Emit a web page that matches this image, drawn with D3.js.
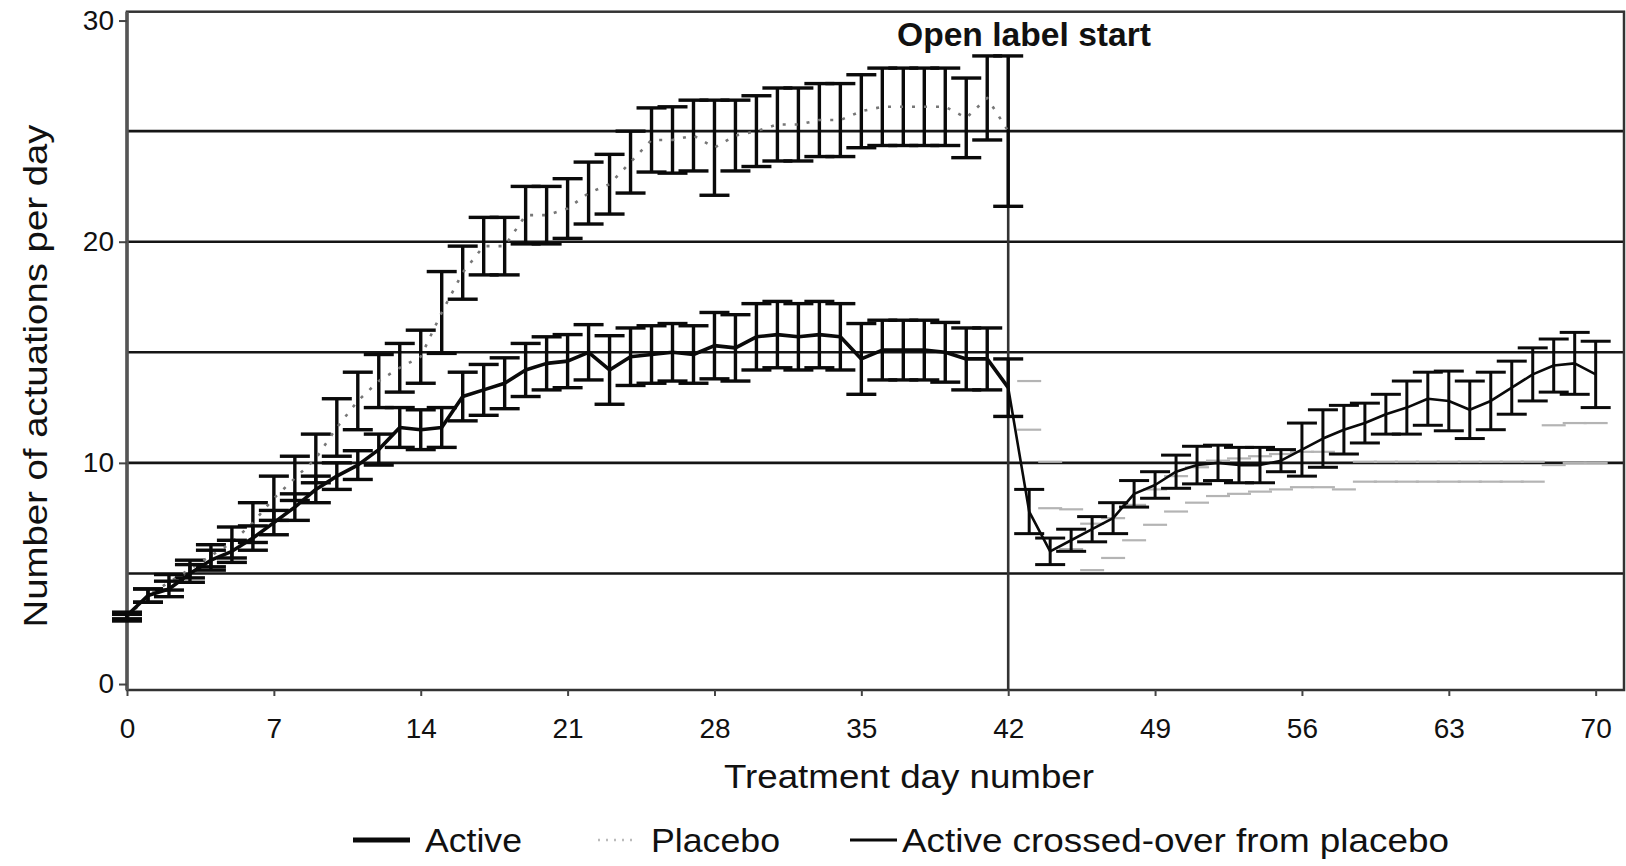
<!DOCTYPE html>
<html>
<head>
<meta charset="utf-8">
<script src="https://cdn.jsdelivr.net/npm/d3@7"></script>
<style>
body { margin: 0; background: #fff; }
text { font-family: "Liberation Sans", Arial, Helvetica, sans-serif; fill: #111; }
</style>
</head>
<body>
<svg width="1626" height="866"></svg>
<script>
// double-blind period, days 0-42
const blindDays = d3.range(0, 43);
const activeMean = [3.1, 4.0, 4.3, 5.0, 5.6, 6.0, 6.6, 7.3, 8.0, 8.8, 9.4, 9.9, 10.6, 11.6, 11.5, 11.6,
    13.0, 13.3, 13.6, 14.2, 14.5, 14.6, 15.0, 14.2, 14.8, 14.9, 15.0, 14.9, 15.3, 15.2, 15.7, 15.8,
    15.7, 15.8, 15.7, 14.7, 15.1, 15.1, 15.1, 15.0, 14.7, 14.7, 13.4];
const activeSE = [0.15, 0.3, 0.35, 0.4, 0.45, 0.5, 0.55, 0.55, 0.6, 0.6, 0.6, 0.65, 0.7, 0.9, 0.9, 0.9,
    1.1, 1.15, 1.15, 1.2, 1.2, 1.2, 1.25, 1.55, 1.3, 1.3, 1.3, 1.3, 1.5, 1.5, 1.5, 1.5,
    1.5, 1.5, 1.5, 1.6, 1.35, 1.35, 1.35, 1.35, 1.4, 1.4, 1.3];
const placeboMean = [3.0, 4.0, 4.6, 5.2, 5.8, 6.4, 7.3, 8.4, 9.3, 10.2, 11.6, 12.8, 13.7, 14.3, 14.8, 16.8,
    18.6, 19.8, 19.8, 21.2, 21.2, 21.5, 22.2, 22.6, 23.6, 24.6, 24.6, 24.8, 24.25, 24.8, 25.0, 25.3,
    25.3, 25.5, 25.5, 25.9, 26.1, 26.1, 26.1, 26.1, 25.6, 26.5, 25.0];
const placeboSE = [0.15, 0.3, 0.35, 0.4, 0.5, 0.7, 0.9, 1.0, 1.0, 1.1, 1.3, 1.3, 1.2, 1.1, 1.2, 1.85,
    1.2, 1.3, 1.3, 1.3, 1.3, 1.35, 1.4, 1.35, 1.4, 1.45, 1.5, 1.6, 2.15, 1.6, 1.6, 1.65,
    1.65, 1.65, 1.65, 1.65, 1.75, 1.75, 1.75, 1.75, 1.8, 1.9, 3.4];

// open label period, days 42-70
const openDays = d3.range(42, 71);
const crossMean = [13.4, 7.8, 6.0, 6.5, 7.0, 7.5, 8.6, 9.0, 9.6, 9.9, 10.0, 9.9, 9.9, 10.1, 10.6,
    11.1, 11.5, 11.8, 12.2, 12.5, 12.9, 12.8, 12.4, 12.8, 13.4, 14.0, 14.4, 14.5, 14.0];
const crossSE = [0, 1.0, 0.6, 0.5, 0.57, 0.7, 0.6, 0.6, 0.75, 0.85, 0.8, 0.8, 0.8, 0.5, 1.2,
    1.3, 1.1, 0.9, 0.9, 1.2, 1.2, 1.35, 1.3, 1.3, 1.2, 1.2, 1.2, 1.4, 1.5];
// faint grey marks after day 42
const greyDays = d3.range(43, 71);
const greyMean = [12.6, 9.0, 7.0, 6.2, 6.6, 7.3, 8.0, 8.6, 9.0, 9.3, 9.4, 9.5, 9.6, 9.7, 9.7,
    9.6, 9.6, 9.6, 9.6, 9.6, 9.6, 9.6, 9.6, 9.6, 9.6, 10.8, 10.9, 10.9];
const greySE = [1.1, 1.05, 0.9, 1.05, 0.9, 0.8, 0.8, 0.8, 0.8, 0.8, 0.8, 0.8, 0.8, 0.8, 0.8,
    0.8, 0.45, 0.45, 0.45, 0.45, 0.45, 0.45, 0.45, 0.45, 0.45, 0.9, 0.9, 0.9];

const xTicks = d3.range(0, 71, 7);
const yTicks = [0, 10, 20, 30];
const gridValues = [5, 10, 15, 20, 25];
const openLabelDay = 42;

const svg = d3.select("svg");
const x = d3.scaleLinear().domain([0, 71.35]).range([127, 1624]);
const y = d3.scaleLinear().domain([-0.27, 30.4]).range([690, 11.7]);

svg.append("rect").attr("width", 1626).attr("height", 866).attr("fill", "#fff");

// horizontal grid
svg.append("g").selectAll("line").data(gridValues).join("line")
    .attr("x1", x(0)).attr("x2", 1624)
    .attr("y1", d => y(d)).attr("y2", d => y(d))
    .attr("stroke", "#151515").attr("stroke-width", 2.6);

// frame
svg.append("rect")
    .attr("x", x(0)).attr("y", 11.7)
    .attr("width", 1624 - x(0)).attr("height", 690 - 11.7)
    .attr("fill", "none").attr("stroke", "#333").attr("stroke-width", 2.5);
svg.append("line")
    .attr("x1", x(0)).attr("x2", x(0)).attr("y1", 11.7).attr("y2", 690)
    .attr("stroke", "#555").attr("stroke-width", 3.5);

// axes
const yAxis = svg.append("g").attr("transform", "translate(" + x(0) + ",0)")
    .call(d3.axisLeft(y).tickValues(yTicks).tickSize(8).tickPadding(5));
const xAxis = svg.append("g").attr("transform", "translate(0,690)")
    .call(d3.axisBottom(x).tickValues(xTicks).tickSize(6).tickPadding(22));
[yAxis, xAxis].forEach(a => {
    a.select(".domain").remove();
    a.selectAll(".tick line").attr("stroke", "#444").attr("stroke-width", 2);
    a.selectAll(".tick text").attr("font-size", 28).attr("fill", "#111")
        .style("font-family", '"Liberation Sans", Arial, sans-serif');
});

// open label reference line
svg.append("line")
    .attr("x1", x(openLabelDay)).attr("x2", x(openLabelDay))
    .attr("y1", y(28.4)).attr("y2", 690)
    .attr("stroke", "#333").attr("stroke-width", 2.6);

function errorBars(days, means, ses, color, width, capHalf, stems) {
    const g = svg.append("g").attr("stroke", color).attr("stroke-width", width).attr("fill", "none");
    const pts = days.map((d, i) => ({ d: d, m: means[i], s: ses[i] })).filter(p => p.s > 0);
    if (stems !== false) {
        g.selectAll(".stem").data(pts).join("line")
            .attr("x1", p => x(p.d)).attr("x2", p => x(p.d))
            .attr("y1", p => y(p.m - p.s)).attr("y2", p => y(p.m + p.s));
    }
    g.selectAll(".capTop").data(pts).join("line")
        .attr("x1", p => x(p.d) - capHalf).attr("x2", p => x(p.d) + capHalf)
        .attr("y1", p => y(p.m + p.s)).attr("y2", p => y(p.m + p.s));
    g.selectAll(".capBottom").data(pts).join("line")
        .attr("x1", p => x(p.d) - capHalf).attr("x2", p => x(p.d) + capHalf)
        .attr("y1", p => y(p.m - p.s)).attr("y2", p => y(p.m - p.s));
}

function meanLine(days, means, color, width, dash) {
    const line = d3.line().x((d, i) => x(days[i])).y(d => y(d));
    svg.append("path").datum(means)
        .attr("d", line)
        .attr("fill", "none")
        .attr("stroke", color)
        .attr("stroke-width", width)
        .attr("stroke-dasharray", dash || null)
        .attr("stroke-linejoin", "round");
}

// faint grey series (only the caps survive in the print)
errorBars(greyDays, greyMean, greySE, "#b4b4b4", 2.2, 12, false);

// placebo
errorBars(blindDays, placeboMean, placeboSE, "#0a0a0a", 3.4, 15);
meanLine(blindDays, placeboMean, "#777", 2.6, "3,9");

// active
errorBars(blindDays, activeMean, activeSE, "#0a0a0a", 3.4, 15);
meanLine(blindDays, activeMean, "#0a0a0a", 3.6);

// active crossed-over from placebo
errorBars(openDays, crossMean, crossSE, "#0a0a0a", 3, 15);
meanLine(openDays, crossMean, "#0a0a0a", 2.6);

// texts
svg.append("text")
    .attr("x", 897).attr("y", 46)
    .attr("font-size", 33).attr("font-weight", "bold")
    .attr("textLength", 254).attr("lengthAdjust", "spacingAndGlyphs")
    .text("Open label start");

svg.append("text")
    .attr("x", 909).attr("y", 788).attr("text-anchor", "middle")
    .attr("font-size", 34)
    .attr("textLength", 370).attr("lengthAdjust", "spacingAndGlyphs")
    .text("Treatment day number");

svg.append("text")
    .attr("transform", "translate(47,376) rotate(-90)")
    .attr("text-anchor", "middle")
    .attr("font-size", 34)
    .attr("textLength", 503).attr("lengthAdjust", "spacingAndGlyphs")
    .text("Number of actuations per day");

// legend
const legendItems = [
    { label: "Active", x1: 353, x2: 410, tx: 425, tw: 97, color: "#0a0a0a", w: 5, dash: null },
    { label: "Placebo", x1: 598, x2: 634, tx: 651, tw: 129, color: "#bbb", w: 2.5, dash: "2,6" },
    { label: "Active crossed-over from placebo", x1: 850, x2: 897, tx: 902, tw: 547, color: "#0a0a0a", w: 3, dash: null }
];
const lg = svg.append("g");
lg.selectAll("line").data(legendItems).join("line")
    .attr("x1", d => d.x1).attr("x2", d => d.x2)
    .attr("y1", 840).attr("y2", 840)
    .attr("stroke", d => d.color).attr("stroke-width", d => d.w)
    .attr("stroke-dasharray", d => d.dash);
lg.selectAll("text").data(legendItems).join("text")
    .attr("x", d => d.tx).attr("y", 852)
    .attr("font-size", 34)
    .attr("textLength", d => d.tw).attr("lengthAdjust", "spacingAndGlyphs")
    .text(d => d.label);
</script>
</body>
</html>
